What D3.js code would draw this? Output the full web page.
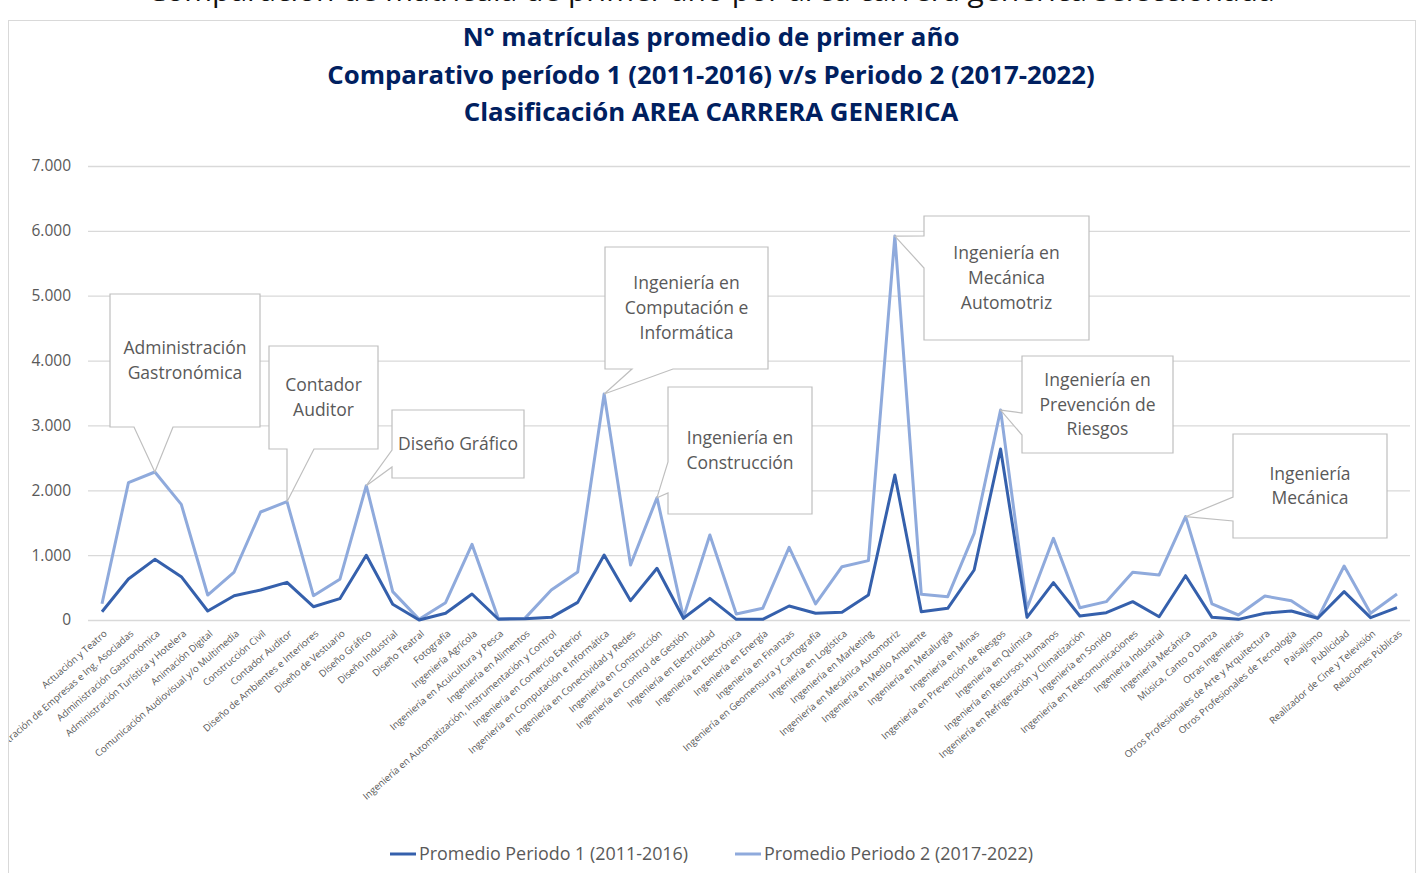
<!DOCTYPE html>
<html>
<head>
<meta charset="utf-8">
<script src="https://cdn.jsdelivr.net/npm/d3@7"></script>
<style>
  html, body { margin: 0; padding: 0; background: #fff; }
  svg { display: block; font-family: "Open Sans", "DejaVu Sans", sans-serif; }
</style>
</head>
<body>
<svg id="chart" width="1423" height="873"></svg>
<script>
// ---------------- DATA ----------------
const categories = [
  "Actuación y Teatro",
  "Administración de Empresas e Ing. Asociadas",
  "Administración Gastronómica",
  "Administración Turística y Hotelera",
  "Animación Digital",
  "Comunicación Audiovisual y/o Multimedia",
  "Construcción Civil",
  "Contador Auditor",
  "Diseño de Ambientes e Interiores",
  "Diseño de Vestuario",
  "Diseño Gráfico",
  "Diseño Industrial",
  "Diseño Teatral",
  "Fotografía",
  "Ingeniería Agrícola",
  "Ingeniería en Acuicultura y Pesca",
  "Ingeniería en Alimentos",
  "Ingeniería en Automatización, Instrumentación y Control",
  "Ingeniería en Comercio Exterior",
  "Ingeniería en Computación e Informática",
  "Ingeniería en Conectividad y Redes",
  "Ingeniería en Construcción",
  "Ingeniería en Control de Gestión",
  "Ingeniería en Electricidad",
  "Ingeniería en Electrónica",
  "Ingeniería en Energía",
  "Ingeniería en Finanzas",
  "Ingeniería en Geomensura y Cartografía",
  "Ingeniería en Logística",
  "Ingeniería en Marketing",
  "Ingeniería en Mecánica Automotriz",
  "Ingeniería en Medio Ambiente",
  "Ingeniería en Metalurgia",
  "Ingeniería en Minas",
  "Ingeniería en Prevención de Riesgos",
  "Ingeniería en Química",
  "Ingeniería en Recursos Humanos",
  "Ingeniería en Refrigeración y Climatización",
  "Ingeniería en Sonido",
  "Ingeniería en Telecomunicaciones",
  "Ingeniería Industrial",
  "Ingeniería Mecánica",
  "Música, Canto o Danza",
  "Otras Ingenierías",
  "Otros Profesionales de Arte y Arquitectura",
  "Otros Profesionales de Tecnología",
  "Paisajismo",
  "Publicidad",
  "Realizador de Cine y Televisión",
  "Relaciones Públicas"
];

const periodo1 = [
  128, 632, 935, 668, 139, 375, 462, 581, 205, 329,
  997, 242, 0, 103, 401, 12, 18, 41, 272, 1002,
  298, 797, 26, 334, 10, 10, 216, 103, 118, 385,
  2235, 128, 180, 771, 2636, 41, 576, 62, 113, 283,
  51, 683, 41, 10, 103, 139, 26, 437, 36, 190
];

const periodo2 = [
  250, 2117, 2282, 1783, 385, 740, 1665, 1824, 375, 627,
  2071, 437, 10, 267, 1166, 20, 25, 462, 740, 3484,
  848, 1886, 41, 1310, 92, 180, 1120, 247, 822, 915,
  5920, 396, 360, 1336, 3237, 180, 1259, 190, 283, 735,
  694, 1593, 247, 77, 370, 298, 26, 832, 103, 401
];

const seriesNames = ["Promedio Periodo 1 (2011-2016)", "Promedio Periodo 2 (2017-2022)"];
const yTicks = [0, 1000, 2000, 3000, 4000, 5000, 6000, 7000];

const titleLines = [
  "N° matrículas promedio de primer año",
  "Comparativo período 1 (2011-2016) v/s Periodo 2 (2017-2022)",
  "Clasificación AREA CARRERA GENERICA"
];
const topCutText = "Comparación de matrícula de primer año por área carrera genérica seleccionada";

// Callouts: which category/series they point at and their text
const calloutCats = [
  "Administración Gastronómica", "Contador Auditor", "Diseño Gráfico",
  "Ingeniería en Computación e Informática", "Ingeniería en Construcción",
  "Ingeniería en Mecánica Automotriz", "Ingeniería en Prevención de Riesgos",
  "Ingeniería Mecánica"
];
const calloutTexts = [
  ["Administración", "Gastronómica"],
  ["Contador", "Auditor"],
  ["Diseño Gráfico"],
  ["Ingeniería en", "Computación e", "Informática"],
  ["Ingeniería en", "Construcción"],
  ["Ingeniería en", "Mecánica", "Automotriz"],
  ["Ingeniería en", "Prevención de", "Riesgos"],
  ["Ingeniería", "Mecánica"]
];

// ---------------- LAYOUT ----------------
const calloutLayout = [
  { box: [110, 294, 260, 427], side: "bottom", base: [134, 173] },
  { box: [269, 346, 378, 449], side: "bottom", base: [287, 314] },
  { box: [392, 410, 524, 478], side: "left",   base: [450, 467] },
  { box: [605, 247, 768, 369], side: "bottom", base: [632, 673] },
  { box: [668, 387, 812, 514], side: "left",   base: [462, 493] },
  { box: [924, 216, 1089, 340], side: "left",  base: [236, 268] },
  { box: [1022, 356, 1173, 453], side: "left", base: [413, 435] },
  { box: [1233, 434, 1387, 538], side: "left", base: [497, 521] }
];

const colDark = "#3560AC";
const colLight = "#8FAADC";
const textGrey = "#595959";

const svg = d3.select("#chart");

// frame
svg.append("rect")
  .attr("x", 8.5).attr("y", 20.5)
  .attr("width", 1407).attr("height", 880)
  .attr("fill", "#fff").attr("stroke", "#d9d9d9").attr("stroke-width", 1);

// cut text at very top (the reference shows only its lower part)
svg.append("text")
  .attr("x", 711).attr("y", 1)
  .attr("text-anchor", "middle")
  .attr("font-size", 30)
  .attr("fill", "#111")
  .text(topCutText);

// title
svg.append("g").selectAll("text")
  .data(titleLines).join("text")
  .attr("x", 711)
  .attr("y", (d, i) => 46 + i * 37.5)
  .attr("text-anchor", "middle")
  .attr("font-weight", 700)
  .attr("font-size", 25.8)
  .attr("fill", "#002060")
  .text(d => d);

// scales
const x = d3.scalePoint().domain(categories).range([102, 1397]);
const y = d3.scaleLinear().domain([0, 7000]).range([620, 166]);

const loc = d3.formatLocale({ decimal: ",", thousands: ".", grouping: [3], currency: ["$", ""] });
const fmt = loc.format(",d");

// y axis + grid
const yAxis = d3.axisLeft(y)
  .tickValues(yTicks)
  .tickSize(-(1410 - 88))
  .tickPadding(17)
  .tickFormat(fmt);

const gy = svg.append("g").attr("transform", "translate(88,0)").call(yAxis);
gy.select(".domain").remove();
gy.selectAll(".tick line").attr("stroke", "#d9d9d9").attr("stroke-width", 1.3);
gy.selectAll(".tick text")
  .attr("font-size", 15.5)
  .attr("fill", textGrey)
  .attr("font-family", "'Open Sans', sans-serif");

// x axis labels
const clip = svg.append("defs").append("clipPath").attr("id", "frameClip");
clip.append("rect").attr("x", 9).attr("y", 21).attr("width", 1406).attr("height", 860);

const xAxis = d3.axisBottom(x).tickSize(0).tickPadding(0);
const gx = svg.append("g")
  .attr("clip-path", "url(#frameClip)")
  .append("g")
  .attr("transform", "translate(0,620)")
  .call(xAxis);
gx.select(".domain").remove();
gx.selectAll(".tick text")
  .attr("font-size", 9.6)
  .attr("fill", textGrey)
  .attr("font-family", "'Open Sans', sans-serif")
  .attr("text-anchor", "end")
  .attr("dy", "0.35em")
  .attr("y", 0)
  .attr("transform", "translate(3,12) rotate(-41)");

// lines
const lineGen = d3.line()
  .x((d, i) => x(categories[i]))
  .y(d => y(d));

svg.append("path")
  .datum(periodo2)
  .attr("fill", "none")
  .attr("stroke", colLight)
  .attr("stroke-width", 3)
  .attr("stroke-linejoin", "round")
  .attr("d", lineGen);

svg.append("path")
  .datum(periodo1)
  .attr("fill", "none")
  .attr("stroke", colDark)
  .attr("stroke-width", 3)
  .attr("stroke-linejoin", "round")
  .attr("d", lineGen);

// callouts
const gc = svg.append("g");
calloutCats.forEach((cat, k) => {
  const idx = categories.indexOf(cat);
  const tx = x(cat), ty = y(periodo2[idx]);
  const L = calloutLayout[k];
  const [x0, y0, x1, y1] = L.box;
  const [a, b] = L.base;
  let p;
  if (L.side === "bottom") {
    p = `M${x0},${y0}L${x1},${y0}L${x1},${y1}L${b},${y1}L${tx},${ty}L${a},${y1}L${x0},${y1}Z`;
  } else {
    p = `M${x0},${y0}L${x1},${y0}L${x1},${y1}L${x0},${y1}L${x0},${b}L${tx},${ty}L${x0},${a}Z`;
  }
  gc.append("path")
    .attr("d", p)
    .attr("fill", "#fff")
    .attr("stroke", "#bfbfbf")
    .attr("stroke-width", 1.2)
    .attr("stroke-linejoin", "miter");

  const lines = calloutTexts[k];
  const lh = 24.7;
  const cy = (y0 + y1) / 2;
  const cx = (x0 + x1) / 2;
  const firstBase = cy - (lines.length - 1) * lh / 2 + 6;
  lines.forEach((t, j) => {
    gc.append("text")
      .attr("x", cx)
      .attr("y", firstBase + j * lh)
      .attr("text-anchor", "middle")
      .attr("font-size", 17.5)
      .attr("fill", textGrey)
      .text(t);
  });
});

// legend
const leg = svg.append("g");
const legendItems = [
  { name: seriesNames[0], color: colDark, x: 390 },
  { name: seriesNames[1], color: colLight, x: 735 }
];
legendItems.forEach(it => {
  leg.append("line")
    .attr("x1", it.x).attr("x2", it.x + 26)
    .attr("y1", 854).attr("y2", 854)
    .attr("stroke", it.color).attr("stroke-width", 3);
  leg.append("text")
    .attr("x", it.x + 29).attr("y", 860)
    .attr("font-size", 17.9)
    .attr("fill", textGrey)
    .text(it.name);
});
</script>
</body>
</html>
